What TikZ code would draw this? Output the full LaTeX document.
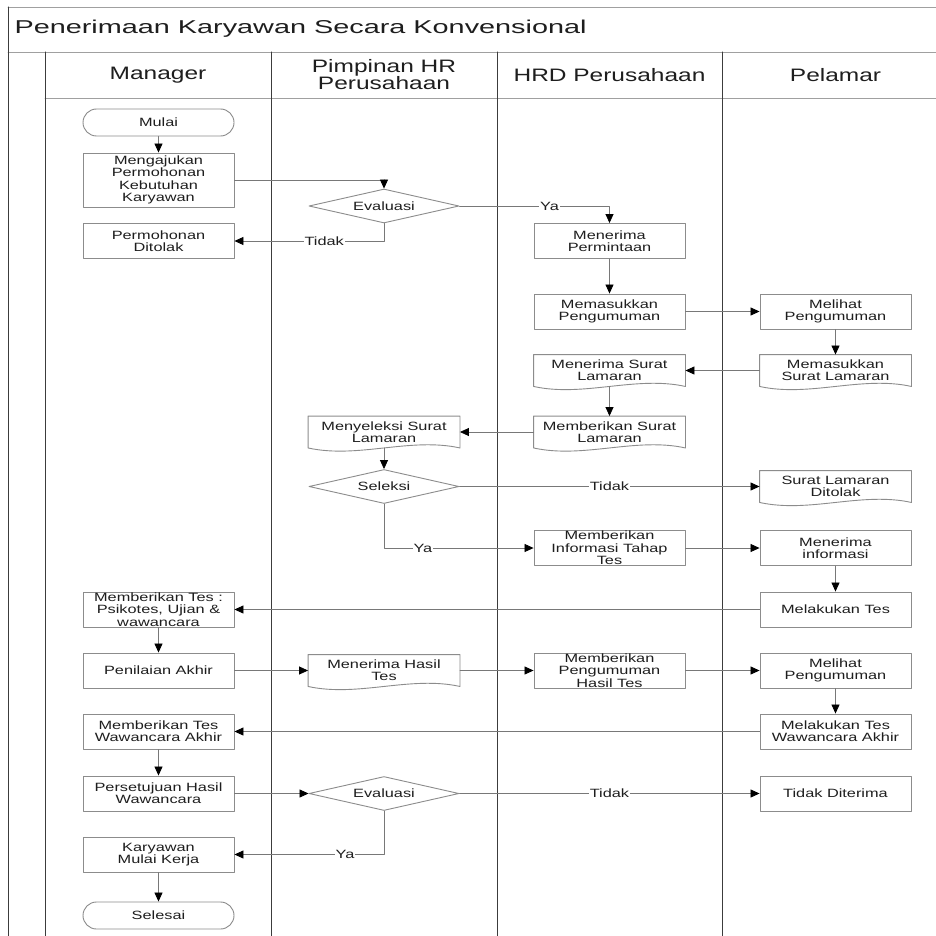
\documentclass[tikz,border=0pt]{standalone}
\usepackage{fontspec}
\setmainfont{Liberation Sans}[FakeStretch=1.36]
\newfontfamily\judulfont{Liberation Sans}[FakeStretch=1.55]
\usepackage{tikz}
\usetikzlibrary{arrows.meta,shapes.geometric}
\definecolor{garislajur}{RGB}{60,60,60}
\definecolor{garistepi}{RGB}{160,160,160}
\definecolor{garisbox}{RGB}{140,140,140}
\definecolor{garisalur}{RGB}{120,120,120}
\definecolor{teks}{RGB}{30,30,30}
\begin{document}
\begin{tikzpicture}[line cap=round,line join=round,>={Triangle[length=9pt,width=8pt,color=black]},x=1pt,y=-1pt,
  kotak/.style={draw=garisbox,line width=0.9pt,rectangle,minimum width=151pt,minimum height=35pt,inner sep=0pt,align=center,text=teks,font=\fontsize{12}{12.3}\selectfont},
  dokumen/.style={kotak,draw=none,minimum height=31pt},
  terminal/.style={kotak,rounded corners=13.5pt,minimum height=27pt},
  keputusan/.style={kotak,diamond,aspect=4.4,minimum width=150pt,minimum height=34pt},
  alur/.style={draw=garisalur,line width=0.8pt,->},
  ket/.style={fill=white,inner sep=1pt,text=teks,font=\fontsize{12}{12}\selectfont},
  judul/.style={text=teks,font=\fontsize{18}{17.7}\selectfont,align=center}]
\fill[white] (0,0) rectangle (936,936);
\useasboundingbox (0,0) rectangle (936,936);
\draw[garistepi,line width=0.9pt] (8,7) -- (936,7);
\draw[garistepi,line width=0.9pt] (8,52) -- (936,52);
\draw[garistepi,line width=0.9pt] (45,98) -- (936,98);
\draw[garislajur,line width=1pt] (8,7) -- (8,936);
\draw[garislajur,line width=1pt] (45,52) -- (45,936);
\draw[garislajur,line width=1pt] (271,52) -- (271,936);
\draw[garislajur,line width=1pt] (497,52) -- (497,936);
\draw[garislajur,line width=1pt] (722,52) -- (722,936);
\node[anchor=west,text=teks,font=\judulfont\fontsize{18.6}{22}\selectfont] (judulutama) at (11,29) {Penerimaan Karyawan Secara Konvensional};
\node[judul] (manager) at (158,75) {Manager};
\node[judul] (pimpinan) at (384,74.5) {Pimpinan HR\\Perusahaan};
\node[judul] (hrd) at (609.5,75) {HRD Perusahaan};
\node[judul] (pelamar) at (835.5,75) {Pelamar};
\node[terminal] (mulai) at (158.5,122.5) {Mulai};
\node[kotak,minimum height=54pt] (ajukan) at (158.5,180) {Mengajukan\\Permohonan\\Kebutuhan\\Karyawan};
\node[kotak] (ditolak) at (158.5,241) {Permohonan\\Ditolak};
\node[kotak] (tespsiko) at (158.5,609.5) {Memberikan Tes :\\Psikotes, Ujian \&\\wawancara};
\node[kotak] (nilai) at (158.5,670.5) {Penilaian Akhir};
\node[kotak] (wawancara) at (158.5,731.5) {Memberikan Tes\\Wawancara Akhir};
\node[kotak] (setuju) at (158.5,793.5) {Persetujuan Hasil\\Wawancara};
\node[kotak] (mulaikerja) at (158.5,854.5) {Karyawan\\Mulai Kerja};
\node[terminal] (selesai) at (158.5,915.5) {Selesai};
\node[keputusan] (evaluasi) at (384,206) {Evaluasi};
\node[dokumen] (seleksisurat) at (384,432) {Menyeleksi Surat\\Lamaran};
\node[keputusan] (seleksi) at (384,486.5) {Seleksi};
\node[dokumen] (hasiltes) at (384,670.5) {Menerima Hasil\\Tes};
\node[keputusan] (evaluasiakhir) at (384,793.5) {Evaluasi};
\node[kotak] (permintaan) at (609.5,241) {Menerima\\Permintaan};
\node[kotak] (pengumuman) at (609.5,311.5) {Memasukkan\\Pengumuman};
\node[dokumen] (terimasurat) at (609.5,370.5) {Menerima Surat\\Lamaran};
\node[dokumen] (berisurat) at (609.5,432) {Memberikan Surat\\Lamaran};
\node[kotak] (infotes) at (609.5,548) {Memberikan\\Informasi Tahap\\Tes};
\node[kotak] (umumhasil) at (609.5,670.5) {Memberikan\\Pengumuman\\Hasil Tes};
\node[kotak] (lihat) at (835.5,311.5) {Melihat\\Pengumuman};
\node[dokumen] (masuksurat) at (835.5,370.5) {Memasukkan\\Surat Lamaran};
\node[dokumen] (suratditolak) at (835.5,486.5) {Surat Lamaran\\Ditolak};
\node[kotak] (terimainfo) at (835.5,548) {Menerima\\informasi};
\node[kotak] (lakukantes) at (835.5,609.5) {Melakukan Tes};
\node[kotak] (lihatlagi) at (835.5,670.5) {Melihat\\Pengumuman};
\node[kotak] (tesakhir) at (835.5,731.5) {Melakukan Tes\\Wawancara Akhir};
\node[kotak] (tidakditerima) at (835.5,793.5) {Tidak Diterima};
\foreach \d in {seleksisurat,hasiltes,terimasurat,berisurat,masuksurat,suratditolak}
  \draw[garisbox,line width=0.9pt] (\d.south west) -- (\d.north west) -- (\d.north east) -- (\d.south east) .. controls +(-50,-11) and +(50,11) .. (\d.south west);
\draw[alur] (mulai) -- (ajukan);
\draw[alur] (ajukan.east) -| (evaluasi.north);
\draw[alur] (evaluasi.south) |- node[ket,pos=0.7] {Tidak} (ditolak.east);
\draw[alur] (evaluasi.east) -| node[ket,pos=0.3] {Ya} (permintaan.north);
\draw[alur] (permintaan) -- (pengumuman);
\draw[alur] (pengumuman) -- (lihat);
\draw[alur] (lihat) -- (masuksurat);
\draw[alur] (masuksurat) -- (terimasurat);
\draw[alur] (terimasurat) -- (berisurat);
\draw[alur] (berisurat) -- (seleksisurat);
\draw[alur] (seleksisurat) -- (seleksi);
\draw[alur] (seleksi.east) -- node[ket] {Tidak} (suratditolak.west);
\draw[alur] (seleksi.south) |- node[ket,pos=0.63] {Ya} (infotes.west);
\draw[alur] (infotes) -- (terimainfo);
\draw[alur] (terimainfo) -- (lakukantes);
\draw[alur] (lakukantes) -- (tespsiko);
\draw[alur] (tespsiko) -- (nilai);
\draw[alur] (nilai) -- (hasiltes);
\draw[alur] (hasiltes) -- (umumhasil);
\draw[alur] (umumhasil) -- (lihatlagi);
\draw[alur] (lihatlagi) -- (tesakhir);
\draw[alur] (tesakhir) -- (wawancara);
\draw[alur] (wawancara) -- (setuju);
\draw[alur] (setuju) -- (evaluasiakhir);
\draw[alur] (evaluasiakhir.east) -- node[ket] {Tidak} (tidakditerima.west);
\draw[alur] (evaluasiakhir.south) |- node[ket,pos=0.63] {Ya} (mulaikerja.east);
\draw[alur] (mulaikerja) -- (selesai);
\end{tikzpicture}
\end{document}
